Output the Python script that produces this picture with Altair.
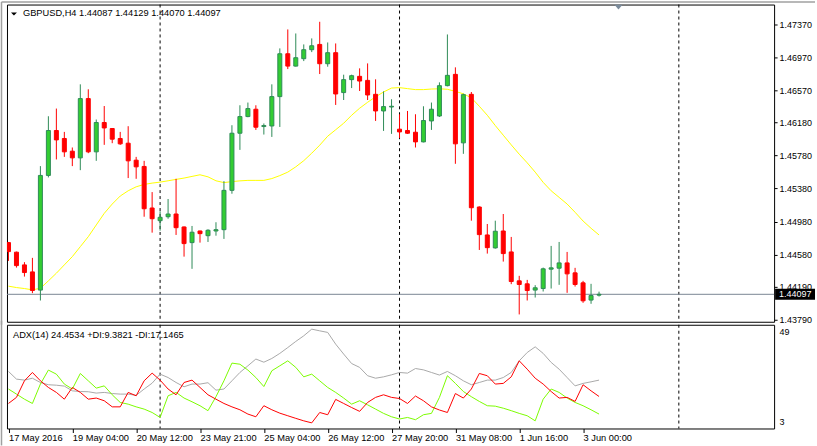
import json
import altair as alt
import pandas as pd

# ---------------- data ----------------
opens = [1.44724, 1.44608, 1.44454, 1.44369, 1.44148, 1.45539, 1.46084, 1.45987, 1.45833, 1.45752,
         1.46471, 1.45825, 1.46181, 1.46108, 1.45987, 1.45930, 1.45724, 1.45648, 1.45144, 1.44990,
         1.45038, 1.45071, 1.44914, 1.44724, 1.44865, 1.44808, 1.44865, 1.44881, 1.45358, 1.46051,
         1.46253, 1.46342, 1.46132, 1.46139, 1.46495, 1.47015, 1.46865, 1.46955, 1.47064, 1.47128,
         1.46894, 1.47028, 1.46544, 1.46701, 1.46741, 1.46692, 1.46523, 1.46321, 1.46369, 1.46100,
         1.46084, 1.46063, 1.45946, 1.46200, 1.46260, 1.46628, 1.46765, 1.45934, 1.46523, 1.45156,
         1.44817, 1.44660, 1.44865, 1.44611, 1.44260, 1.44224, 1.44148, 1.44167, 1.44402, 1.44414,
         1.44478, 1.44357, 1.44236, 1.44027, 1.44087]
highs = [1.44732, 1.44615, 1.44487, 1.44539, 1.45652, 1.46257, 1.46350, 1.46067, 1.45878, 1.46644,
         1.46584, 1.46217, 1.46381, 1.46112, 1.46067, 1.46136, 1.45764, 1.45716, 1.45337, 1.45104,
         1.45253, 1.45498, 1.44920, 1.44926, 1.44870, 1.44886, 1.44971, 1.45470, 1.46148, 1.46390,
         1.46423, 1.46390, 1.46169, 1.46644, 1.47080, 1.47310, 1.47261, 1.47128, 1.47201, 1.47403,
         1.47152, 1.47140, 1.46761, 1.46761, 1.46838, 1.46898, 1.46705, 1.46559, 1.46463, 1.46281,
         1.46321, 1.46281, 1.46378, 1.46423, 1.46668, 1.47249, 1.46850, 1.46531, 1.46551, 1.45164,
         1.44950, 1.44990, 1.45071, 1.44793, 1.44321, 1.44272, 1.44208, 1.44421, 1.44684, 1.44732,
         1.44611, 1.44418, 1.44260, 1.44224, 1.44129]
lows = [1.44502, 1.44421, 1.44312, 1.44111, 1.44022, 1.45515, 1.45733, 1.45764, 1.45652, 1.45603,
        1.45809, 1.45716, 1.45910, 1.45930, 1.45910, 1.45507, 1.45498, 1.45038, 1.44845, 1.44869,
        1.45014, 1.44817, 1.44554, 1.44406, 1.44724, 1.44732, 1.44808, 1.44769, 1.45317, 1.45849,
        1.46245, 1.46091, 1.46035, 1.46006, 1.46127, 1.46829, 1.46860, 1.46926, 1.47035, 1.46769,
        1.46858, 1.46394, 1.46454, 1.46599, 1.46563, 1.46454, 1.46200, 1.46079, 1.46043, 1.45994,
        1.46043, 1.45878, 1.45940, 1.46091, 1.46248, 1.46620, 1.45680, 1.45801, 1.44990, 1.44635,
        1.44591, 1.44651, 1.44494, 1.44220, 1.43853, 1.44022, 1.44058, 1.44131, 1.44167, 1.44212,
        1.44115, 1.44191, 1.43994, 1.43982, 1.44070]
closes = [1.44615, 1.44445, 1.44361, 1.44143, 1.45539, 1.46084, 1.45970, 1.45825, 1.45752, 1.46471,
          1.45825, 1.46181, 1.46115, 1.45979, 1.45922, 1.45716, 1.45643, 1.45135, 1.45014, 1.45031,
          1.45071, 1.44905, 1.44712, 1.44850, 1.44833, 1.44874, 1.44881, 1.45358, 1.46051, 1.46253,
          1.46350, 1.46124, 1.46144, 1.46495, 1.47015, 1.46865, 1.46967, 1.47064, 1.47112, 1.46894,
          1.47028, 1.46527, 1.46701, 1.46749, 1.46684, 1.46515, 1.46321, 1.46374, 1.46378, 1.46067,
          1.46051, 1.45946, 1.46205, 1.46342, 1.46628, 1.46753, 1.45922, 1.46519, 1.45147, 1.44821,
          1.44663, 1.44862, 1.44591, 1.44252, 1.44216, 1.44143, 1.44176, 1.44406, 1.44418, 1.44478,
          1.44345, 1.44216, 1.44018, 1.44082, 1.44097]
moving_avg = [1.44196, 1.44179, 1.44167, 1.44151, 1.44170, 1.44260, 1.44353, 1.44454, 1.44554, 1.44675,
              1.44796, 1.44938, 1.45079, 1.45192, 1.45289, 1.45353, 1.45401, 1.45430, 1.45446, 1.45458,
              1.45474, 1.45491, 1.45507, 1.45527, 1.45547, 1.45522, 1.45474, 1.45452, 1.45464, 1.45473,
              1.45479, 1.45479, 1.45479, 1.45501, 1.45537, 1.45579, 1.45643, 1.45718, 1.45809, 1.45906,
              1.46015, 1.46093, 1.46172, 1.46269, 1.46354, 1.46426, 1.46493, 1.46551, 1.46599, 1.46604,
              1.46592, 1.46580, 1.46580, 1.46587, 1.46590, 1.46584, 1.46559, 1.46529, 1.46481, 1.46378,
              1.46269, 1.46144, 1.46027, 1.45910, 1.45797, 1.45692, 1.45579, 1.45455, 1.45353, 1.45273,
              1.45192, 1.45092, 1.44986, 1.44898, 1.44817]
adx_main = [28.3, 24.9, 24.45, 25.3, 23.4, 22.4, 22.2, 21.8, 19.7, 19.4,
            19.3, 18.7, 19.0, 18.5, 18.25, 18.25, 17.7, 20.5, 23.1, 27.1,
            25.6, 23.4, 21.5, 22.7, 22.7, 23.3, 20.0, 20.5, 24.15, 27.85,
            30.8, 33.8, 32.4, 34.05, 36.3, 38.9, 41.6, 44.1, 47.05, 46.3,
            45.6, 40.4, 36.0, 31.8, 30.1, 26.4, 25.3, 25.9, 26.8, 27.85,
            27.55, 29.6, 29.0, 27.85, 26.7, 28.3, 26.4, 24.15, 22.4, 23.4,
            24.45, 24.45, 25.6, 27.85, 33.0, 36.7, 39.2, 36.3, 32.3, 29.3,
            25.6, 21.9, 23.0, 23.7, 24.45]
plus_di = [20.5, 18.25, 16.0, 14.1, 22.7, 28.9, 27.1, 22.7, 20.5, 27.4,
           24.15, 20.9, 21.9, 17.95, 14.55, 13.8, 12.6, 11.6, 10.1, 7.9,
           17.5, 19.0, 16.5, 14.85, 13.1, 10.9, 17.1, 24.15, 32.0, 31.5,
           28.9, 25.6, 21.6, 28.6, 30.8, 33.0, 30.1, 25.9, 27.1, 24.15,
           21.2, 19.0, 16.5, 13.8, 15.3, 13.5, 11.6, 9.7, 8.2, 7.2,
           7.9, 6.9, 9.1, 9.7, 16.8, 26.4, 23.0, 19.4, 17.1, 15.0,
           13.1, 12.9, 12.0, 10.9, 9.7, 8.65, 6.4, 16.0, 20.5, 19.0,
           16.5, 14.55, 13.1, 11.3, 9.4]
minus_di = [14.1, 16.8, 24.15, 27.85, 24.15, 21.2, 19.0, 16.0, 21.2, 19.0,
            16.0, 16.5, 15.3, 12.6, 12.6, 19.0, 17.5, 24.15, 27.55, 24.45,
            20.5, 17.95, 23.4, 24.45, 21.2, 17.95, 16.0, 14.1, 12.6, 11.3,
            9.4, 8.2, 13.1, 11.3, 9.8, 8.65, 7.5, 6.4, 5.5, 10.1,
            9.1, 15.9, 14.1, 12.3, 10.6, 14.55, 16.8, 17.95, 16.8, 16.3,
            14.1, 17.4, 15.3, 12.6, 11.2, 10.1, 18.5, 16.5, 20.5, 27.4,
            26.4, 22.7, 23.0, 25.9, 33.0, 29.3, 25.3, 22.7, 19.4, 16.5,
            16.8, 15.0, 22.4, 19.7, 17.2]

symbol = "GBPUSD,H4"
adx_period = 14
adx_readout = [24.4534, 9.3821, 17.1465]
current_price = 1.44097
separator_bars = [19, 49, 84]
x_tick_bars = [0, 8, 16, 24, 32, 40, 48, 56, 64, 72]
x_tick_labels = ["17 May 2016", "19 May 04:00", "20 May 12:00", "23 May 21:00", "25 May 04:00",
                 "26 May 12:00", "27 May 20:00", "31 May 08:00", "1 Jun 16:00", "3 Jun 00:00"]
price_ticks = [1.4379, 1.4419, 1.4458, 1.4498, 1.4538, 1.4578, 1.4618, 1.4657, 1.4697, 1.4737]
adx_ticks = [3, 49]

# ---------------- layout / style ----------------
FONT = "Liberation Sans"
W, H_MAIN, H_ADX = 769, 318, 104
CHROME = "#A0A0A0"

n = len(opens)
df = pd.DataFrame({
    "i": list(range(n)), "open": opens, "high": highs, "low": lows, "close": closes,
    "ma": moving_avg, "adx": adx_main, "pdi": plus_di, "mdi": minus_di,
})
df["dir"] = ["up" if c >= o else "down" for o, c in zip(opens, closes)]

x_scale = alt.Scale(domain=[-0.1875, 95.9375], nice=False, zero=False, padding=0)
y_scale = alt.Scale(domain=[1.43764, 1.47612], nice=False, zero=False, padding=0)
a_scale = alt.Scale(domain=[3, 49], nice=False, zero=False, padding=0)

y_axis = alt.Axis(orient="right", values=price_ticks, format=".5f", tickSize=3, labelPadding=2,
                  domain=False, grid=False, title=None, labelFontSize=9, labelFont=FONT,
                  labelColor="black", tickColor="black", labelFlush=False, labelOverlap=False,
                  labelBound=False)
a_axis = alt.Axis(orient="right", values=adx_ticks, tickSize=0, labelPadding=5, domain=False,
                  grid=False, title=None, labelFontSize=9, labelFont=FONT, labelColor="black",
                  labelFlush=True, labelFlushOffset=-2.5, labelOverlap=False)
label_expr = f"{json.dumps(x_tick_labels)}[indexof({json.dumps(x_tick_bars)}, datum.value)]"
x_axis = alt.Axis(values=x_tick_bars, labelExpr=label_expr, labelAlign="left",
                  tickSize=4, labelPadding=1, domain=False, grid=False, title=None,
                  labelFontSize=9.3, labelFont=FONT, labelColor="black", tickColor="black",
                  labelFlush=False, labelOverlap=False, labelBound=False)

X = alt.X("i:Q", scale=x_scale, axis=None)
base = alt.Chart(df)
one = pd.DataFrame({"k": [0]})

dir_fill = alt.Scale(domain=["up", "down"], range=["#32CD32", "#FF0000"])
dir_line = alt.Scale(domain=["up", "down"], range=["#2E8B57", "#FF0000"])

sep_df = pd.DataFrame({"s": separator_bars})
seps_main = alt.Chart(sep_df).mark_rule(color="black", strokeWidth=1, strokeDash=[3, 3]).encode(
    x=alt.X("s:Q", scale=x_scale, axis=None))

price_line = alt.Chart(pd.DataFrame({"p": [current_price]})).mark_rule(
    color="#7A8694", strokeWidth=1).encode(y=alt.Y("p:Q", scale=y_scale, axis=y_axis))

ma_line = base.mark_line(color="#FFFF00", strokeWidth=1, clip=True).encode(
    x=X, y=alt.Y("ma:Q", scale=y_scale, axis=y_axis))

wicks = base.mark_rule(strokeWidth=1, clip=True).encode(
    x=X, y=alt.Y("low:Q", scale=y_scale, axis=y_axis), y2="high:Q",
    color=alt.Color("dir:N", scale=dir_line, legend=None))

bodies = base.mark_bar(size=4, strokeWidth=1, clip=True).encode(
    x=X, y=alt.Y("open:Q", scale=y_scale, axis=y_axis), y2="close:Q",
    fill=alt.Fill("dir:N", scale=dir_fill, legend=None),
    stroke=alt.Stroke("dir:N", scale=dir_line, legend=None))

title_text = f"{symbol}  {opens[-1]:.5f} {highs[-1]:.5f} {lows[-1]:.5f} {closes[-1]:.5f}"
title = alt.Chart(pd.DataFrame({"t": [title_text]})).mark_text(
    align="left", baseline="middle", fontSize=9.3, font=FONT, color="black").encode(
    x=alt.value(16), y=alt.value(8.5), text="t:N")
title_arrow = alt.Chart(one).mark_point(
    shape="M-1,-0.5L1,-0.5L0,0.5Z", filled=True, color="black", size=36, opacity=1).encode(
    x=alt.value(7), y=alt.value(9.5))
shift_mark = alt.Chart(one).mark_point(
    shape="M-1,-0.625L1,-0.625L0,0.625Z", filled=True, color="#7A8A9A", size=64,
    opacity=1).encode(x=alt.value(613), y=alt.value(2.6))

# window chrome (grey frame line at top and left edge of the terminal window)
chrome_top = alt.Chart(one).mark_rule(color=CHROME, strokeWidth=1.5).encode(
    x=alt.value(-5.5), x2=alt.value(810), y=alt.value(-2.5))
chrome_left_main = alt.Chart(one).mark_rule(color=CHROME, strokeWidth=1.5).encode(
    x=alt.value(-5.5), y=alt.value(-2.5), y2=alt.value(H_MAIN + 3))

box_df = pd.DataFrame({"p": [current_price], "t": [f"{current_price:.5f}"]})
price_box = alt.Chart(box_df).mark_point(
    shape="M-2,-0.55L2,-0.55L2,0.55L-2,0.55Z", filled=True, color="black", size=400,
    opacity=1).encode(y=alt.Y("p:Q", scale=y_scale, axis=y_axis), x=alt.value(790))
price_box_text = alt.Chart(box_df).mark_text(
    color="white", fontSize=9, font=FONT, align="left", baseline="middle").encode(
    y=alt.Y("p:Q", scale=y_scale, axis=y_axis), x=alt.value(774), text="t:N")

main = alt.layer(chrome_top, chrome_left_main, seps_main, price_line, ma_line, wicks, bodies,
                 title, title_arrow, shift_mark, price_box, price_box_text).properties(
    width=W, height=H_MAIN)

# ---------------- ADX panel ----------------
XA = alt.X("i:Q", scale=x_scale, axis=x_axis)
seps_adx = alt.Chart(sep_df).mark_rule(color="black", strokeWidth=1, strokeDash=[3, 3]).encode(
    x=alt.X("s:Q", scale=x_scale, axis=x_axis))
chrome_left_adx = alt.Chart(one).mark_rule(color=CHROME, strokeWidth=1.5).encode(
    x=alt.value(-5.5), y=alt.value(-4), y2=alt.value(H_ADX + 17))
adx_line = base.mark_line(color="#A9A9A9", strokeWidth=1, clip=True).encode(
    x=XA, y=alt.Y("adx:Q", scale=a_scale, axis=a_axis))
pdi_line = base.mark_line(color="#7CFC00", strokeWidth=1, clip=True).encode(
    x=XA, y=alt.Y("pdi:Q", scale=a_scale, axis=a_axis))
mdi_line = base.mark_line(color="#FF0000", strokeWidth=1, clip=True).encode(
    x=XA, y=alt.Y("mdi:Q", scale=a_scale, axis=a_axis))
adx_text = (f"ADX({adx_period}) {adx_readout[0]:.4f} +DI:{adx_readout[1]:.4f} "
            f"-DI:{adx_readout[2]:.4f}")
adx_label = alt.Chart(pd.DataFrame({"t": [adx_text]})).mark_text(
    align="left", baseline="middle", fontSize=9.3, font=FONT, color="black").encode(
    x=alt.value(6), y=alt.value(10), text="t:N")

adx_panel = alt.layer(chrome_left_adx, seps_adx, adx_line, pdi_line, mdi_line,
                      adx_label).properties(width=W, height=H_ADX)

chart = alt.vconcat(main, adx_panel, spacing=3, bounds="flush").properties(
    padding={"left": 0, "top": 0, "right": 0, "bottom": 0},
    background="white",
).configure_view(stroke="black", strokeWidth=1).configure_text(font=FONT)

chart.save("out.html", embed_options={"renderer": "svg", "actions": False})
